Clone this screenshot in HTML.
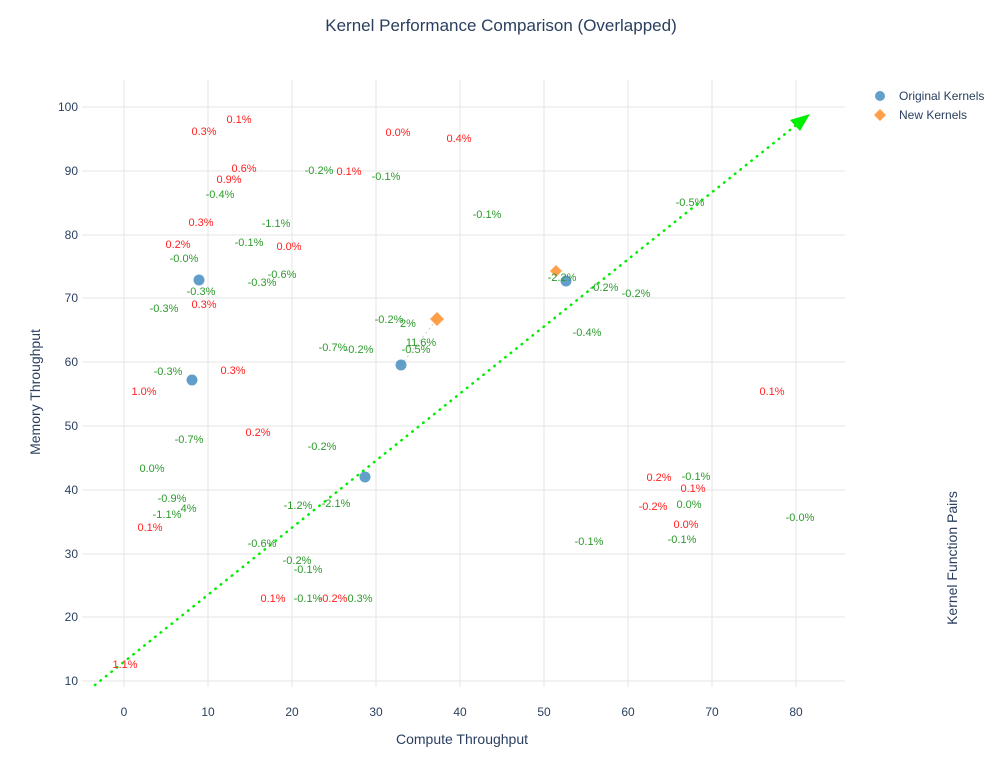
<!DOCTYPE html>
<html><head><meta charset="utf-8"><style>
body{margin:0;background:#fff}
svg{display:block;font-family:"Liberation Sans",sans-serif}
.r{fill:#ff2020;font-size:11px;text-anchor:middle}
.g{fill:#2c9a2c;font-size:11px;text-anchor:middle}
.t{fill:#2a3f5f;font-size:12px}
</style></head><body>
<svg width="996" height="763" viewBox="0 0 996 763">
<g stroke="#e6e6e6" stroke-width="1">
<line x1="124" y1="80" x2="124" y2="687"/><line x1="208" y1="80" x2="208" y2="687"/><line x1="292" y1="80" x2="292" y2="687"/><line x1="376" y1="80" x2="376" y2="687"/><line x1="460" y1="80" x2="460" y2="687"/><line x1="544" y1="80" x2="544" y2="687"/><line x1="628" y1="80" x2="628" y2="687"/><line x1="712" y1="80" x2="712" y2="687"/><line x1="796" y1="80" x2="796" y2="687"/>
<line x1="82" y1="107" x2="845" y2="107"/><line x1="82" y1="171" x2="845" y2="171"/><line x1="82" y1="235" x2="845" y2="235"/><line x1="82" y1="298" x2="845" y2="298"/><line x1="82" y1="362" x2="845" y2="362"/><line x1="82" y1="426" x2="845" y2="426"/><line x1="82" y1="490" x2="845" y2="490"/><line x1="82" y1="554" x2="845" y2="554"/><line x1="82" y1="617" x2="845" y2="617"/><line x1="82" y1="681" x2="845" y2="681"/>
</g>
<g class="t" text-anchor="middle">
<text x="124" y="716">0</text><text x="208" y="716">10</text><text x="292" y="716">20</text><text x="376" y="716">30</text><text x="460" y="716">40</text><text x="544" y="716">50</text><text x="628" y="716">60</text><text x="712" y="716">70</text><text x="796" y="716">80</text>
</g>
<g class="t" text-anchor="end">
<text x="78" y="111">100</text><text x="78" y="175">90</text><text x="78" y="239">80</text><text x="78" y="302">70</text><text x="78" y="366">60</text><text x="78" y="430">50</text><text x="78" y="494">40</text><text x="78" y="558">30</text><text x="78" y="621">20</text><text x="78" y="685">10</text>
</g>
<text x="501" y="31" text-anchor="middle" font-size="17" fill="#2a3f5f">Kernel Performance Comparison (Overlapped)</text>
<text x="462" y="744" text-anchor="middle" font-size="14" fill="#2a3f5f">Compute Throughput</text>
<text transform="translate(40,392) rotate(-90)" text-anchor="middle" font-size="14" fill="#2a3f5f">Memory Throughput</text>
<text transform="translate(957,558) rotate(-90)" text-anchor="middle" font-size="14" fill="#2a3f5f">Kernel Function Pairs</text>
<line x1="95" y1="685" x2="800" y2="122" stroke="#00ee00" stroke-width="2.5" stroke-dasharray="0.5 6.5" stroke-linecap="round"/>
<polygon points="810,114 790,120 800,131" fill="#00ee00"/>
<line x1="401" y1="365" x2="437" y2="319" stroke="#ccc" stroke-dasharray="2 3"/>
<g fill="#1f77b4" opacity="0.7">
<circle cx="199" cy="280" r="5.5"/><circle cx="192" cy="380" r="5.5"/><circle cx="401" cy="365" r="5.5"/><circle cx="365" cy="477" r="5.5"/><circle cx="566" cy="281" r="5.5"/>
</g>
<g fill="#ff7f0e" opacity="0.75">
<polygon points="437,312 444,319 437,326 430,319"/><polygon points="556,265 562,271 556,277 550,271"/>
</g>
<g class="r">
<text x="239" y="123">0.1%</text><text x="204" y="135">0.3%</text><text x="398" y="136">0.0%</text><text x="459" y="142">0.4%</text><text x="244" y="172">0.6%</text><text x="349" y="175">0.1%</text><text x="229" y="183">0.9%</text><text x="201" y="226">0.3%</text><text x="178" y="248">0.2%</text><text x="289" y="250">0.0%</text><text x="204" y="308">0.3%</text><text x="233" y="374">0.3%</text><text x="144" y="395">1.0%</text><text x="258" y="436">0.2%</text><text x="150" y="531">0.1%</text><text x="273" y="602">0.1%</text><text x="333" y="602">-0.2%</text><text x="125" y="668">1.1%</text><text x="772" y="395">0.1%</text><text x="659" y="481">0.2%</text><text x="693" y="492">0.1%</text><text x="653" y="510">-0.2%</text><text x="686" y="528">0.0%</text>
</g>
<g class="g">
<text x="319" y="174">-0.2%</text><text x="386" y="180">-0.1%</text><text x="220" y="198">-0.4%</text><text x="276" y="227">-1.1%</text><text x="249" y="246">-0.1%</text><text x="184" y="262">-0.0%</text><text x="282" y="278">-0.6%</text><text x="262" y="286">-0.3%</text><text x="201" y="295">-0.3%</text><text x="164" y="312">-0.3%</text><text x="487" y="218">-0.1%</text><text x="690" y="206">-0.5%</text><text x="562" y="281">-2.2%</text><text x="604" y="291">-0.2%</text><text x="636" y="297">-0.2%</text><text x="587" y="336">-0.4%</text><text x="389" y="323">-0.2%</text><text x="408" y="327">2%</text><text x="333" y="351">-0.7%</text><text x="359" y="353">-0.2%</text><text x="421" y="346">11.6%</text><text x="416" y="353">-0.5%</text><text x="168" y="375">-0.3%</text><text x="189" y="443">-0.7%</text><text x="322" y="450">-0.2%</text><text x="152" y="472">0.0%</text><text x="172" y="502">-0.9%</text><text x="167" y="518">-1.1%</text><text x="187" y="512">.4%</text><text x="298" y="509">-1.2%</text><text x="336" y="507">-2.1%</text><text x="262" y="547">-0.6%</text><text x="297" y="564">-0.2%</text><text x="308" y="573">-0.1%</text><text x="308" y="602">-0.1%</text><text x="360" y="602">0.3%</text><text x="696" y="480">-0.1%</text><text x="689" y="508">0.0%</text><text x="682" y="543">-0.1%</text><text x="589" y="545">-0.1%</text><text x="800" y="521">-0.0%</text>
</g>
<circle cx="880" cy="96" r="5" fill="#1f77b4" opacity="0.7"/>
<text x="899" y="100" font-size="12" fill="#2a3f5f">Original Kernels</text>
<polygon points="880,109 886,115 880,121 874,115" fill="#ff7f0e" opacity="0.75"/>
<text x="899" y="119" font-size="12" fill="#2a3f5f">New Kernels</text>
</svg>
</body></html>
